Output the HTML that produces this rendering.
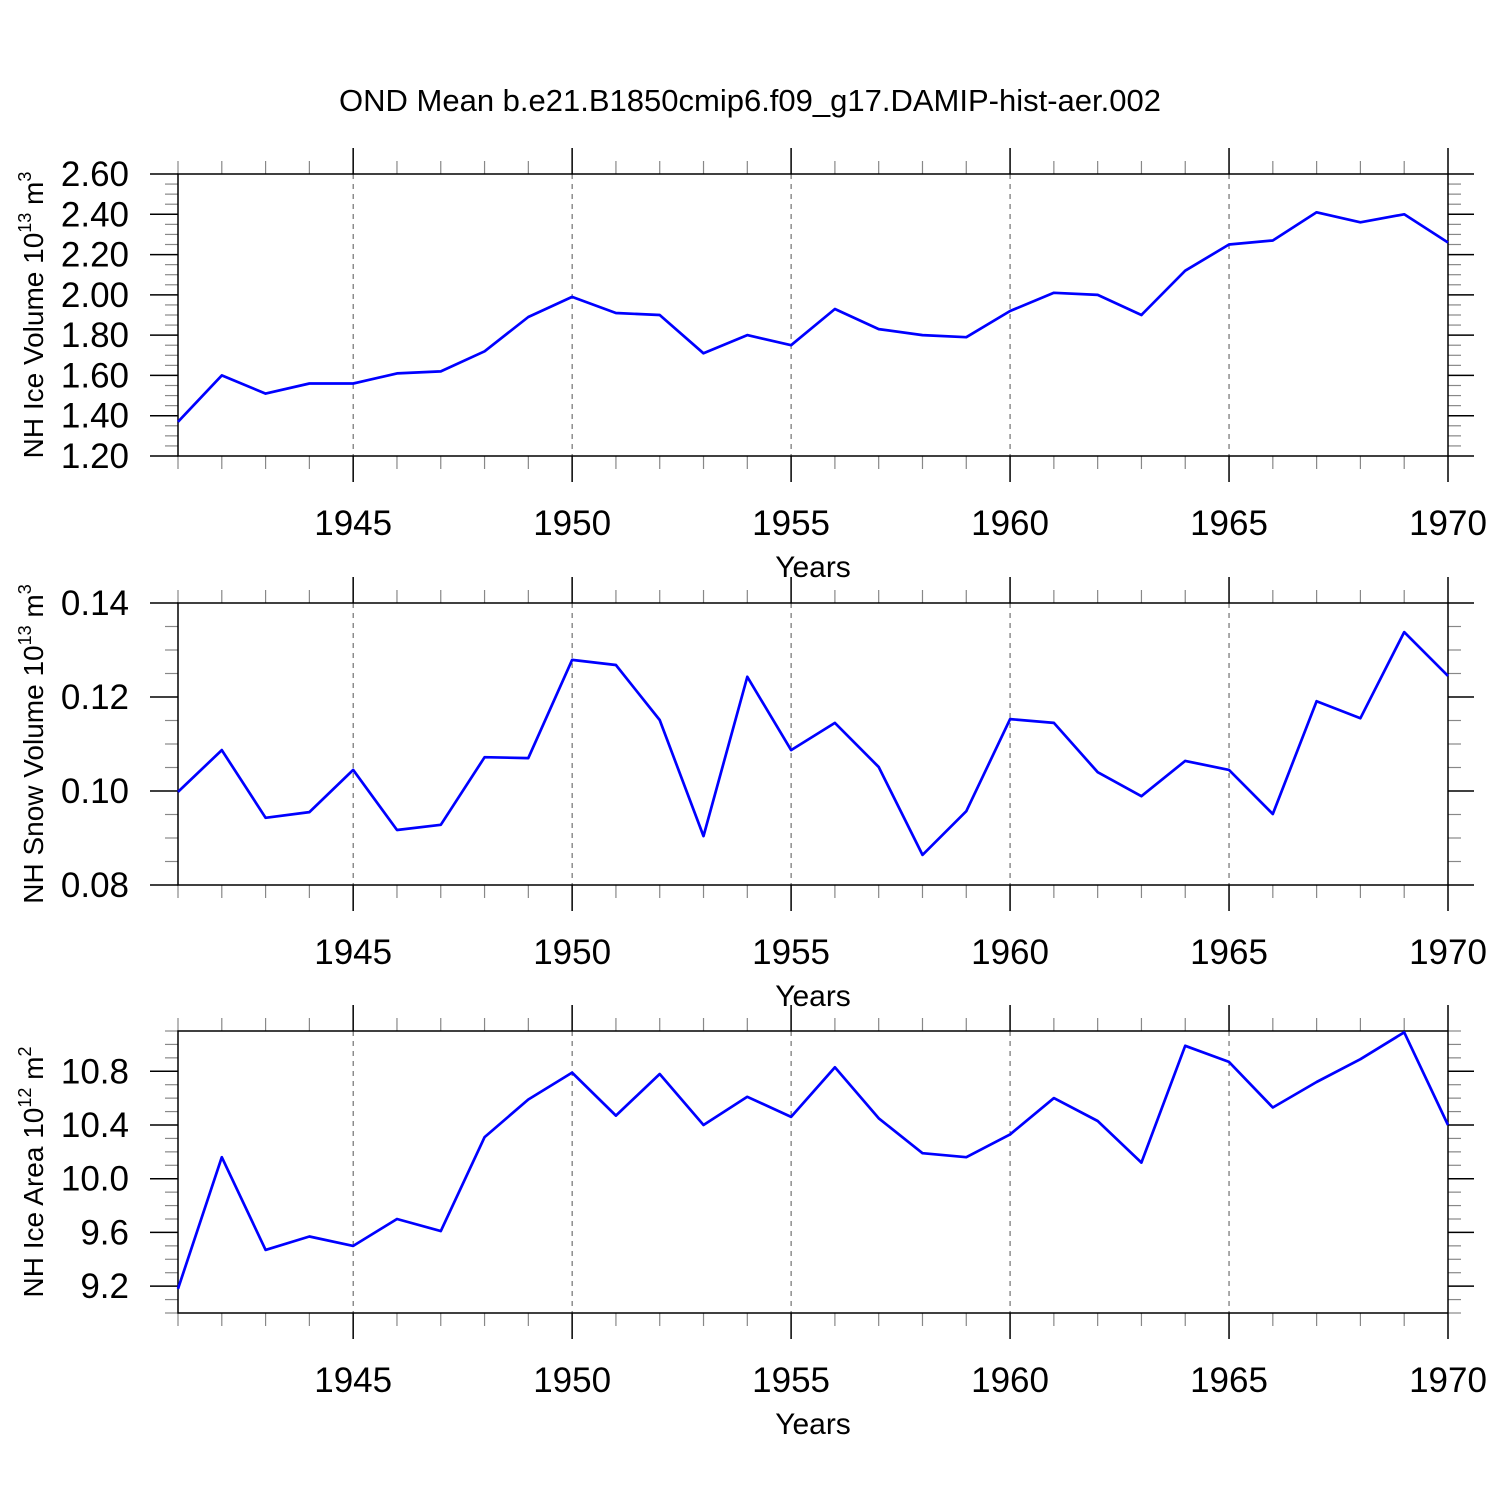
<!DOCTYPE html>
<html><head><meta charset="utf-8"><style>
html,body{margin:0;padding:0;background:#fff}
svg{display:block}
text{font-family:"Liberation Sans",Arial,sans-serif;fill:#000}
</style></head><body>
<svg id="chart" width="1500" height="1500" viewBox="0 0 1500 1500" xmlns="http://www.w3.org/2000/svg">
<text x="750" y="111" font-size="31" text-anchor="middle">OND Mean b.e21.B1850cmip6.f09_g17.DAMIP-hist-aer.002</text>
</svg>
<script>
const years = [1941,1942,1943,1944,1945,1946,1947,1948,1949,1950,1951,1952,1953,1954,1955,1956,1957,1958,1959,1960,1961,1962,1963,1964,1965,1966,1967,1968,1969,1970];
const iceVolume = [1.37,1.60,1.51,1.56,1.56,1.61,1.62,1.72,1.89,1.99,1.91,1.90,1.71,1.80,1.75,1.93,1.83,1.80,1.79,1.92,2.01,2.00,1.90,2.12,2.25,2.27,2.41,2.36,2.40,2.26];
const snowVolume = [0.0998,0.1087,0.0943,0.0955,0.1045,0.0917,0.0928,0.1072,0.1070,0.1279,0.1268,0.1151,0.0904,0.1243,0.1087,0.1145,0.1051,0.0864,0.0957,0.1153,0.1145,0.1040,0.0989,0.1064,0.1045,0.0951,0.1191,0.1155,0.1338,0.1245];
const iceArea = [9.18,10.16,9.47,9.57,9.50,9.70,9.61,10.31,10.59,10.79,10.47,10.78,10.40,10.61,10.46,10.83,10.45,10.19,10.16,10.33,10.60,10.43,10.12,10.99,10.87,10.53,10.72,10.89,11.09,10.40];
const xTickLabels = [1945,1950,1955,1960,1965,1970];
const iceVolTicks = ["1.20","1.40","1.60","1.80","2.00","2.20","2.40","2.60"];
const snowTicks = ["0.08","0.10","0.12","0.14"];
const areaTicks = ["9.2","9.6","10.0","10.4","10.8"];

const NS="http://www.w3.org/2000/svg";
const svg=document.getElementById('chart');
function mk(tag,attrs,parent){const e=document.createElementNS(NS,tag);for(const k in attrs)e.setAttribute(k,attrs[k]);(parent||svg).appendChild(e);return e;}
const X0=178,X1=1448,YMIN=1941,YMAX=1970;
const xs=v=>X0+(v-YMIN)/(YMAX-YMIN)*(X1-X0);

function panel(name,top,bot,vmin,vmax,minorStep,majorTicks,values,titleParts){
  const g=mk('g',{});
  
  
  const ys=v=>bot-(v-vmin)/(vmax-vmin)*(bot-top);
  xTickLabels.forEach(yr=>{ if(yr<YMAX){const l=mk('line',{x1:xs(yr),x2:xs(yr),y1:top,y2:bot,stroke:'#555','stroke-width':1,'stroke-dasharray':'5,5'},g);
    
    }});
  for(let yr=YMIN;yr<=YMAX;yr++){
    const major=yr%5===0;const x=xs(yr);
    mk('line',{x1:x,x2:x,y1:top,y2:top-(major?26:13),stroke:major?'#000':'#888','stroke-width':major?1.5:1.2},g);
    mk('line',{x1:x,x2:x,y1:bot,y2:bot+(major?26:13),stroke:major?'#000':'#888','stroke-width':major?1.5:1.2},g);
  }
  const n=Math.round((vmax-vmin)/minorStep);
  const majVals=majorTicks.map(Number);
  for(let i=0;i<=n;i++){
    const v=vmin+i*minorStep;const y=ys(v);
    const major=majVals.some(m=>Math.abs(m-v)<minorStep/10);
    mk('line',{x1:X0,x2:X0-(major?28:13),y1:y,y2:y,stroke:major?'#000':'#888','stroke-width':major?1.5:1.2},g);
    mk('line',{x1:X1,x2:X1+(major?26:13),y1:y,y2:y,stroke:major?'#000':'#888','stroke-width':major?1.5:1.2},g);
  }
  majorTicks.forEach(t=>{const tx=mk('text',{x:129,y:ys(Number(t))+12,'font-size':35,'text-anchor':'end'},g);tx.textContent=t;
    
    });
  xTickLabels.forEach(yr=>{const tx=mk('text',{x:xs(yr),y:bot+79,'font-size':35,'text-anchor':'middle'},g);tx.textContent=yr;
    
    });
  mk('rect',{x:X0,y:top,width:X1-X0,height:bot-top,fill:'none',stroke:'#000','stroke-width':1.5},g);
  const pts=values.map((v,i)=>xs(years[i]).toFixed(1)+','+ys(v).toFixed(1)).join(' ');
  const pl=mk('polyline',{points:pts,fill:'none',stroke:'#0000ff','stroke-width':2.7,'stroke-linejoin':'round'},g);
  
  
  const xt=mk('text',{x:813,y:bot+121,'font-size':30,'text-anchor':'middle'},g);xt.textContent='Years';
  
  
  const yt=mk('text',{x:0,y:0,'font-size':28,'text-anchor':'middle',transform:`translate(43,${(top+bot)/2}) rotate(-90)`},g);
  
  
  const a=mk('tspan',{},yt);a.textContent=titleParts[0];
  const b=mk('tspan',{dy:-12,'font-size':18},yt);b.textContent=titleParts[1];
  const c=mk('tspan',{dy:12},yt);c.textContent=' m';
  const d=mk('tspan',{dy:-12,'font-size':18},yt);d.textContent=titleParts[2];
}
panel('ice-volume',174,456,1.2,2.6,0.05,iceVolTicks,iceVolume,['NH Ice Volume 10','13','3']);
panel('snow-volume',603,885,0.08,0.14,0.005,snowTicks,snowVolume,['NH Snow Volume 10','13','3']);
panel('ice-area',1031,1313,9.0,11.1,0.1,areaTicks,iceArea,['NH Ice Area 10','12','2']);
</script>
</body></html>
